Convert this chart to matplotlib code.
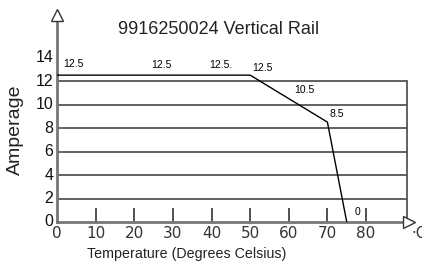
import matplotlib
matplotlib.use("Agg")
import matplotlib.pyplot as plt

temps = [0, 50, 70, 75]
amps = [12.5, 12.5, 8.5, 0]
label_texts = ["12.5", "12.5", "12.5.", "12.5", "10.5", "8.5", "0"]
label_x = [1.5, 24.5, 39.5, 50.5, 61.5, 70.5, 77.0]
label_y = [13.0, 12.9, 12.9, 12.7, 10.8, 8.8, 0.4]
grid_y = [2, 4, 6, 8, 10, 12]
xticks = [0, 10, 20, 30, 40, 50, 60, 70, 80]
yticks = [0, 2, 4, 6, 8, 10, 12, 14]

plt.rcParams['font.family'] = ['Liberation Sans', 'DejaVu Sans']
fig = plt.figure(figsize=(4.22, 2.64), dpi=100)
ax = fig.add_axes([57/422, 1-222/264, 350/422, 205.6/264])
ax.set_xlim(0, 90.6)
ax.set_ylim(0, 17.5)
for s in ax.spines.values():
    s.set_visible(False)

gc = '#555555'
for g in grid_y:
    ax.plot([0, 90.6], [g, g], color=gc, lw=1.3, solid_capstyle='butt')
ax.plot([90.6, 90.6], [0, 12], color=gc, lw=1.3, clip_on=False)
# axes
ax.plot([0, 0], [0, 17.0], color='#777777', lw=2, clip_on=False)
ax.plot([0, 90.6], [0, 0], color='#777777', lw=2, clip_on=False)
ax.plot([0], [17.6], marker='^', ms=9, mfc='white', mec='#333333', mew=1, clip_on=False)
ax.plot([91.2], [0.0], marker='>', ms=9, mfc='white', mec='#333333', mew=1, clip_on=False)

ax.plot(temps, amps, color='black', lw=1.0)
for t, x, y in zip(label_texts, label_x, label_y):
    ax.text(x, y, t, fontsize=7.5, ha='left', va='bottom')

ax.set_xticks(xticks[1:])
ax.tick_params(axis='x', direction='in', length=10, width=1.2, color='#333333', labelbottom=False)
ax.tick_params(axis='y', length=0, labelleft=False)
for x in xticks:
    ax.text(x, -0.35, str(x), ha='center', va='top', fontsize=11,
            family=['Liberation Sans Narrow', 'DejaVu Sans'], color='#333333')
for y in yticks:
    ax.text(-1.0, y, str(y), ha='right', va='center', fontsize=11.5, color='#111111')
ax.text(91.7, -0.3, '·C', ha='left', va='top', fontsize=10.5,
        family=['Liberation Sans Narrow', 'DejaVu Sans'], color='#333333', clip_on=False)

fig.text(219/422, 1-29/264, '9916250024 Vertical Rail', ha='center', va='center', fontsize=13, color='#222222')
fig.text(187/422, 1-254/264, 'Temperature (Degrees Celsius)', ha='center', va='center', fontsize=10.3, color='#222222')
fig.text(15/422, 1-130/264, 'Amperage', ha='center', va='center', rotation=90, fontsize=14, color='#222222')

fig.savefig('out.png', dpi=100)
